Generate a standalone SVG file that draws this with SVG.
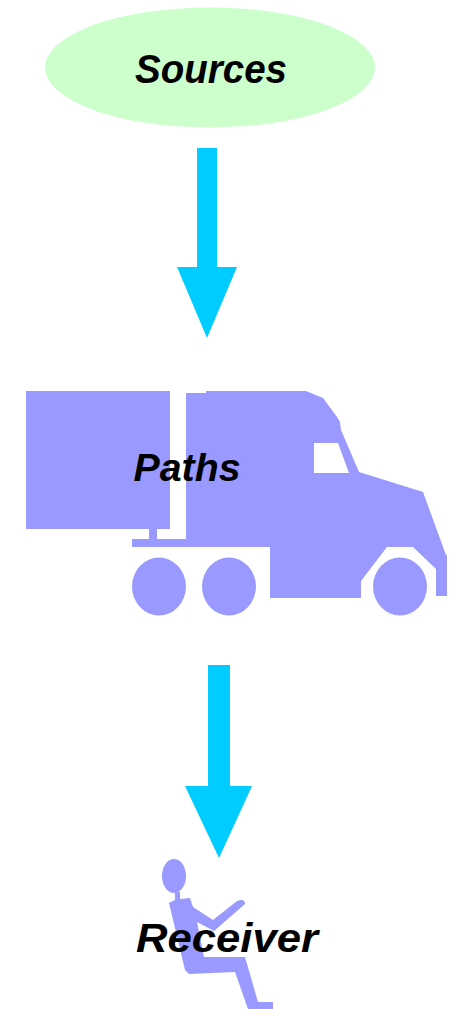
<svg xmlns="http://www.w3.org/2000/svg" width="456" height="1009" viewBox="0 0 456 1009">
<style>
.art{fill:#9999ff}
.arrow{fill:#00ccff}
.label{font-family:"Liberation Sans",Arial,sans-serif;font-weight:700;font-style:italic;fill:#000;text-anchor:middle}
</style>
<rect width="456" height="1009" fill="#fff"/>
<g id="sources"><ellipse cx="210" cy="67.500" rx="165" ry="60" fill="#ccffcc"/><text class="label" x="211" y="83" font-size="40" textLength="152" lengthAdjust="spacingAndGlyphs">Sources</text></g>
<g id="connectors">
<polygon class="arrow" points="197,148 217,148 217,267 237,267 207,338 177,267 197,267"/>
<polygon class="arrow" points="208,665 230,665 230,786 252,786 219,858 185,786 208,786"/>
</g>
<g id="paths">
<rect class="art" x="26" y="391" width="144" height="138"/>
<path class="art" d="M186,393H206V391H306L323,398L337,417L340,422L341,430L359,472L423,492L446,555H447V596H436V569L413,547H387L361,581V598H270V547H132V539H149V529H157V539H186Z"/>
<path d="M314,443H338L349,473H314Z" fill="#fff"/>
<ellipse class="art" cx="159" cy="586.500" rx="27" ry="29"/>
<ellipse class="art" cx="229" cy="586.500" rx="27" ry="29"/>
<ellipse class="art" cx="400" cy="586.500" rx="27" ry="29"/>
<text class="label" x="187" y="481" font-size="38" textLength="107" lengthAdjust="spacingAndGlyphs">Paths</text>
</g>
<g id="receiver">
<ellipse class="art" cx="174" cy="876" rx="12" ry="17"/>
<path class="art" d="M175,892H180V899L190,898L193,907L213,920L237,901Q245,898 245,904L214,931L197,922L204,957H245L258,1002H273V1009H248L235,972L189,974L185,970L169,903L175,900Z"/>
<text class="label" x="227" y="952" font-size="40" textLength="182" lengthAdjust="spacingAndGlyphs">Receiver</text>
</g>
</svg>
